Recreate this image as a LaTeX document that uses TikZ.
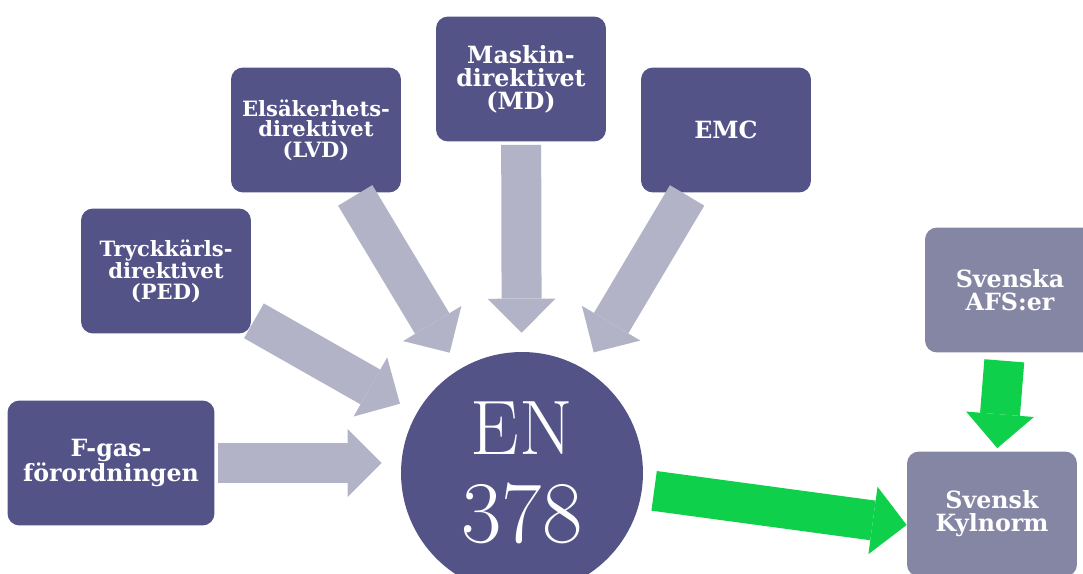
\documentclass[tikz,border=0pt]{standalone}
\usepackage{fontspec}
\newfontfamily\boxfont{DejaVu Serif}
\usetikzlibrary{arrows.meta}
\definecolor{slate}{RGB}{83,83,135}
\definecolor{paleslate}{RGB}{133,134,163}
\definecolor{arrowgray}{RGB}{179,179,199}
\definecolor{arrowgreen}{RGB}{15,208,74}
\tikzset{>=latex}

\begin{document}
\begin{tikzpicture}[x=0.02cm, y=-0.02cm,
  dir/.style={rectangle, rounded corners=0.24cm, fill=slate, text=white,
    minimum width=3.4cm, minimum height=2.5cm, inner sep=2pt, align=center,
    font=\boxfont\bfseries\fontsize{13.5}{13}\selectfont},
  small/.style={font=\boxfont\bfseries\fontsize{12}{11.6}\selectfont},
  svensk/.style={dir, fill=paleslate},
  block/.style={line width=0.8cm, draw=#1,
    -{Triangle[width=1.36cm, length=0.68cm, line width=0pt, fill=#1]}},
  grayarrow/.style={block=arrowgray, shorten <=0.06cm, shorten >=0.38cm},
  greenarrow/.style={block=arrowgreen}]
\useasboundingbox (0,0) rectangle (1083,574);

% the directives
\node[dir, minimum width=4.14cm] (fgas) at (111,463) {F-gas-\\förordningen};
\node[dir, small] (ped) at (166,271) {Tryckkärls-\\direktivet\\(PED)};
\node[dir, small] (lvd) at (316,130) {Elsäkerhets-\\direktivet\\(LVD)};
\node[dir] (md) at (521,79) {Maskin-\\direktivet\\(MD)};
\node[dir] (emc) at (726,130) {EMC};

% the standard
\node[circle, fill=slate, text=white, minimum size=4.84cm, inner sep=0pt,
  align=center, font=\fontsize{44}{50}\selectfont] (en) at (522,473)
  {EN\\{\fontsize{50}{50}\selectfont 378}};

% swedish rules
\node[svensk] (afs) at (1010,290) {Svenska\\AFS:er};
\node[svensk] (kyl) at (992,514) {Svensk\\Kylnorm};

\path[grayarrow]
(fgas) edge (en.west |- fgas)
(ped) edge (en)
(lvd) edge (en)
(md) edge (en)
(emc) edge (en)
;
\path[greenarrow]
(en) edge[shorten <=0.24cm] ([yshift=-0.22cm]kyl.west)
(afs) edge[shorten <=0.16cm, shorten >=0.06cm] (kyl)
;
\end{tikzpicture}
\end{document}
